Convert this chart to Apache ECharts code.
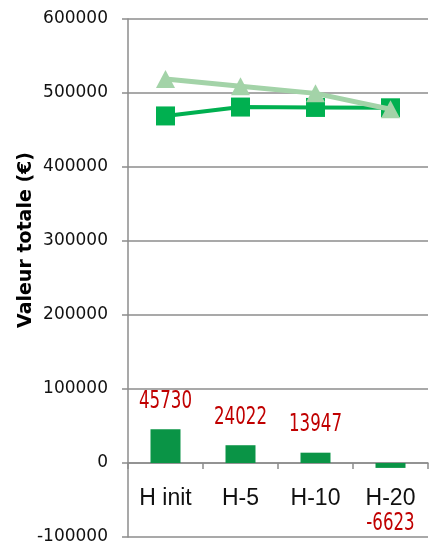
<!DOCTYPE html>
<html><head><meta charset="utf-8">
<script src="https://cdn.jsdelivr.net/npm/echarts@6/dist/echarts.min.js"></script>
<style>html,body{margin:0;padding:0;background:#fff}#c{width:433px;height:546px}</style>
</head><body><div id="c"></div>
<script>
const categories = ['H init', 'H-5', 'H-10', 'H-20'];
const barValues = [45730, 24022, 13947, -6623];
const squareValues = [469000, 481000, 480500, 480000];
const triangleValues = [519000, 509000, 499500, 478000];
const yTicks = { min: -100000, max: 600000, interval: 100000 };

const chart = echarts.init(document.getElementById('c'));
chart.setOption({
  backgroundColor: '#fff',
  animation: false,
  grid: { left: 128, right: 5, top: 19, bottom: 9, containLabel: false, outerBoundsMode: 'none' },
  xAxis: {
    type: 'category', data: categories,
    axisLine: { onZero: true, lineStyle: { color: '#8c8c8c', width: 1.5 } },
    axisTick: { show: true, length: 6, lineStyle: { color: '#8c8c8c', width: 1.5 } },
    axisLabel: { margin: -50, color: '#111', fontFamily: '"Liberation Sans"', fontSize: 23 },
    splitLine: { show: false }
  },
  yAxis: {
    type: 'value', min: yTicks.min, max: yTicks.max, interval: yTicks.interval,
    axisLine: { show: true, lineStyle: { color: '#8c8c8c', width: 1.5 } },
    axisTick: { show: true, length: 6, lineStyle: { color: '#8c8c8c', width: 1.5 } },
    axisLabel: { margin: 20, color: '#111', fontFamily: 'DejaVu Sans', fontSize: 17, formatter: v => String(v) },
    splitLine: { show: true, lineStyle: { color: '#8c8c8c', width: 1.5 } }
  },
  graphic: [{
    type: 'text', x: 26, y: 240, rotation: Math.PI / 2,
    style: { text: 'Valeur totale (€)', fill: '#000', font: 'bold 19px "DejaVu Sans"', align: 'center', verticalAlign: 'middle' }
  }],
  series: [
    {
      type: 'bar', data: barValues,
      barWidth: 30,
      itemStyle: { color: '#0A9446' },
      z: 2
    },
    {
      type: 'custom', data: barValues.map((v, i) => [i, v]),
      z: 5, silent: true,
      renderItem: function (params, api) {
        const v = api.value(1);
        const pt = api.coord([api.value(0), v]);
        const off = v >= 0 ? -28 : 56;
        return {
          type: 'text', x: pt[0], y: pt[1] + off, scaleX: 0.74,
          style: { text: String(v), fill: '#C00000', font: '25px "DejaVu Sans Condensed"', align: 'center', verticalAlign: 'middle' }
        };
      }
    },
    {
      type: 'line', data: squareValues, symbol: 'rect', symbolSize: 19,
      lineStyle: { color: '#00B050', width: 4 }, itemStyle: { color: '#00B050' }, z: 3
    },
    {
      type: 'line', data: triangleValues, symbol: 'triangle', symbolSize: [19, 18],
      lineStyle: { color: '#A3D3A8', width: 5 }, itemStyle: { color: '#A3D3A8' }, z: 4
    }
  ]
});
</script></body></html>
